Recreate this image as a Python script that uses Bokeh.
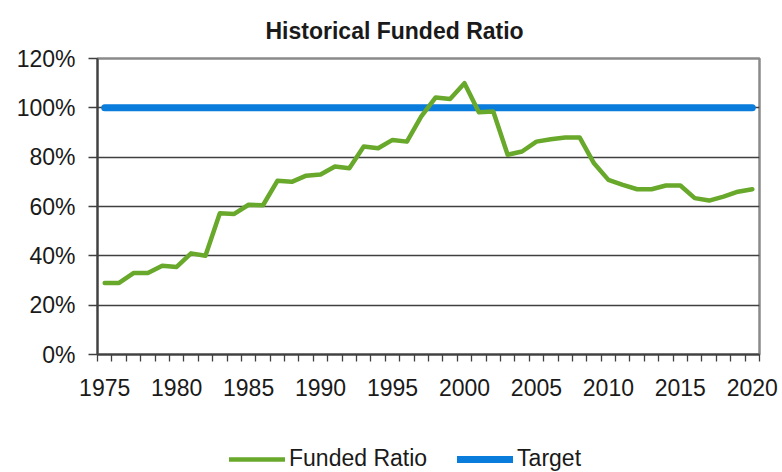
from bokeh.plotting import figure
from bokeh.layouts import column
from bokeh.models import FixedTicker, Legend, LegendItem, PrintfTickFormatter, Range1d
from bokeh.embed import file_html
from bokeh.resources import INLINE

years = list(range(1975, 2021))
funded_ratio = [29, 29, 33, 33, 36, 35.5, 41, 40, 57.3, 57,
                60.7, 60.5, 70.4, 70, 72.5, 73, 76.2, 75.5, 84.3, 83.6,
                87, 86.3, 96.5, 104.2, 103.6, 110, 98.2, 98.5, 81, 82.3,
                86.3, 87.3, 88, 88, 77.5, 70.8, 68.8, 67, 67, 68.5,
                68.5, 63.4, 62.4, 64, 66, 67]
target = [100] * len(years)
y_ticks = [0, 20, 40, 60, 80, 100, 120]
x_label_years = [1975, 1980, 1985, 1990, 1995, 2000, 2005, 2010, 2015, 2020]

FONT = "Liberation Sans"
TXT = "#1a1a1a"
GREEN = "#68A82B"
BLUE = "#0A7CDB"

p = figure(frame_width=662, frame_height=296, output_backend="svg", toolbar_location=None,
           x_range=Range1d(years[0] - 0.5, years[-1] + 0.5), y_range=Range1d(0, 120),
           min_border_left=97, min_border_right=20, min_border_top=57, min_border_bottom=60)

p.title.text = "Historical Funded Ratio"
p.title.text_font = FONT
p.title.text_font_size = "23px"
p.title.text_font_style = "bold"
p.title.text_color = TXT
p.title.align = "left"
p.title.offset = 168
p.title.standoff = 30

p.line(years, target, line_color=BLUE, line_width=7, line_cap="round")
p.line(years, funded_ratio, line_color=GREEN, line_width=4.5, line_join="round", line_cap="round")

# axes
xa = p.xaxis[0]
xa.ticker = FixedTicker(ticks=x_label_years, minor_ticks=[y - 0.5 for y in years] + [years[-1] + 0.5])
xa.major_tick_out = 0
xa.major_tick_in = 0
xa.minor_tick_out = 7
xa.minor_tick_in = 0
xa.minor_tick_line_color = "#404040"
xa.minor_tick_line_width = 1.3
xa.major_label_standoff = 17
xa.axis_line_color = "#404040"
xa.axis_line_width = 2

ya = p.yaxis[0]
ya.ticker = FixedTicker(ticks=y_ticks, minor_ticks=[])
ya.formatter = PrintfTickFormatter(format="%d%%")
ya.major_tick_out = 9
ya.major_tick_in = 0
ya.major_tick_line_color = "#404040"
ya.major_tick_line_width = 1.3
ya.major_label_standoff = 13
ya.axis_line_color = "#404040"
ya.axis_line_width = 2

for ax in (xa, ya):
    ax.major_label_text_font = FONT
    ax.major_label_text_font_size = "23px"
    ax.major_label_text_color = TXT

p.xgrid.visible = False
p.ygrid.ticker = FixedTicker(ticks=y_ticks[1:-1])
p.ygrid.grid_line_color = "#404040"
p.ygrid.grid_line_width = 1.3

p.outline_line_color = "#8a8a8a"
p.outline_line_width = 2.5
p.background_fill_color = "white"
p.border_fill_color = "white"

# legend strip below the chart (its series lie outside its view; only the legend shows)
lg = figure(width=779, height=59, output_backend="svg", toolbar_location=None,
            x_range=Range1d(0, 1), y_range=Range1d(-2, -1),
            x_axis_location=None, y_axis_location=None,
            min_border_left=97, min_border_right=20, min_border_top=0, min_border_bottom=0)
lg.grid.visible = False
lg.outline_line_color = None
lg.background_fill_color = "white"
lg.border_fill_color = "white"
g_key = lg.line(years, funded_ratio, line_color=GREEN, line_width=4.5, line_cap="round")
b_key = lg.line(years, target, line_color=BLUE, line_width=7, line_cap="round")

legend = Legend(items=[LegendItem(label="Funded Ratio", renderers=[g_key]),
                       LegendItem(label="Target", renderers=[b_key])],
                orientation="horizontal", location=(132, 1),
                glyph_width=56, glyph_height=20, label_standoff=4, spacing=30,
                label_text_font=FONT, label_text_font_size="23px", label_text_color=TXT,
                border_line_color=None, background_fill_alpha=0,
                padding=0, margin=0)
lg.add_layout(legend, "center")

open("out.html", "w").write(file_html(column(p, lg, spacing=0), INLINE))
